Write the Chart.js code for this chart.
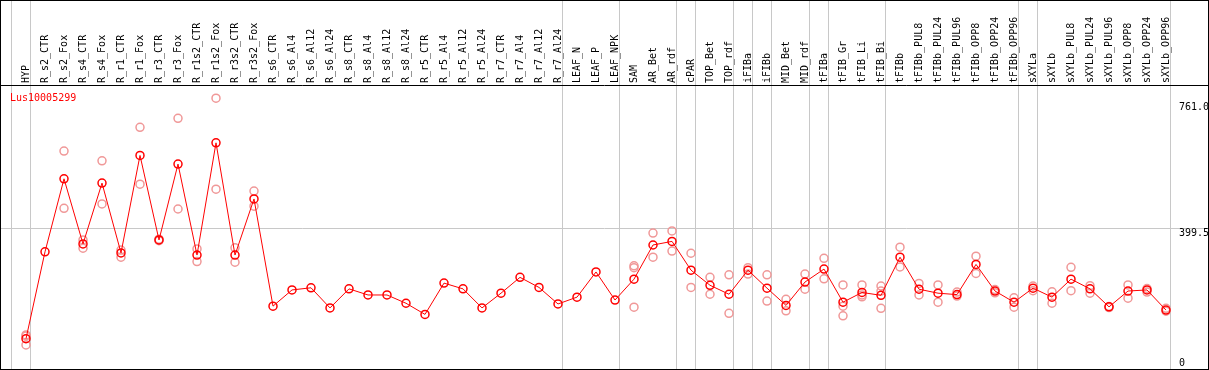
<!DOCTYPE html>
<html>
<head>
<meta charset="utf-8">
<script src="https://cdn.jsdelivr.net/npm/chart.js@4.4.0/dist/chart.umd.min.js"></script>
<style>
  html, body { margin: 0; padding: 0; background: #fff; }
  #wrap { width: 1209px; height: 370px; position: relative; }
</style>
</head>
<body>
<div id="wrap"><canvas id="grafico"></canvas></div>
<script>
const geneName = 'Lus10005299';

const categories = [
    'HYP', 'R_s2_CTR', 'R_s2_Fox', 'R_s4_CTR', 'R_s4_Fox', 'R_r1_CTR', 'R_r1_Fox', 'R_r3_CTR', 'R_r3_Fox',
    'R_r1s2_CTR', 'R_r1s2_Fox', 'R_r3s2_CTR', 'R_r3s2_Fox', 'R_s6_CTR', 'R_s6_Al4', 'R_s6_Al12', 'R_s6_Al24',
    'R_s8_CTR', 'R_s8_Al4', 'R_s8_Al12', 'R_s8_Al24', 'R_r5_CTR', 'R_r5_Al4', 'R_r5_Al12', 'R_r5_Al24',
    'R_r7_CTR', 'R_r7_Al4', 'R_r7_Al12', 'R_r7_Al24', 'LEAF_N', 'LEAF_P', 'LEAF_NPK', 'SAM', 'AR_Bet', 'AR_rdf',
    'cPAR', 'TOP_Bet', 'TOP_rdf', 'iFIBa', 'iFIBb', 'MID_Bet', 'MID_rdf', 'tFIBa', 'tFIB_Gr', 'tFIB_Li', 'tFIB_Bi',
    'tFIBb', 'tFIBb_PUL8', 'tFIBb_PUL24', 'tFIBb_PUL96', 'tFIBb_OPP8', 'tFIBb_OPP24', 'tFIBb_OPP96',
    'sXYLa', 'sXYLb', 'sXYLb_PUL8', 'sXYLb_PUL24', 'sXYLb_PUL96', 'sXYLb_OPP8', 'sXYLb_OPP24', 'sXYLb_OPP96'
];

// mean expression per sample
const means = [
    92.5, 334, 537, 356, 525, 331, 602, 367, 578, 325, 637, 325, 481, 183, 228, 234, 178,
    231, 214, 214, 191, 160, 247, 231, 178, 219, 263, 235, 189, 208, 278, 200, 258, 353, 363,
    283, 241, 216, 283, 233, 185, 250, 286, 194, 221, 213, 319, 230, 219, 215, 299, 225, 194,
    233, 208, 258, 231, 181, 225, 228, 172
];

// replicates (null = hidden under the mean)
const rep1 = [
    100, null, 614, 367, 587, 339, 680, 365, 705, 342, 761, 345, 503, null, null, null, null,
    null, null, null, null, null, null, null, null, null, null, null, null, null, null, null, 295, 386, 392,
    330, 263, 270, 290, 270, 202, 272, 316, 242, 242, 239, 347, 246, 242, 222, 322, 229, 206,
    239, 223, 291, 240, 182, 242, 232, 177
];
const rep2 = [
    75, null, 455, 344, 467, 319, 522, 369, 453, 307, 508, 305, 461, null, null, null, null,
    null, null, null, null, null, null, null, null, null, null, null, null, null, null, null, 290, 319, 336,
    235, 216, 163, 272, 197, 170, 230, 259, 183, 209, 177, 292, 214, 194, 211, 274, 220, 180,
    226, 191, 226, 219, 179, 205, 222, 169
];
const rep3 = [
    103, null, null, null, null, null, null, null, null, null, null, null, null, null, null, null, null,
    null, null, null, null, null, null, null, null, null, null, null, null, null, null, null, 180, null, null,
    null, null, null, null, null, null, null, null, 156, 214, 225, null, null, null, null, null, null, null,
    null, null, null, null, null, null, null, null
];

// group separators: after these sample indexes
const groupEnds = [-1, 0, 28, 31, 34, 35, 37, 38, 39, 41, 42, 45, 52, 53, 60];

const axisTicks = [0, 399.5, 761];
const axisLabels = ['0', '399.5', '761.0'];

const monoFont = 'DejaVu Sans Mono';
const gray = '#c8c8c8';
const repColor = '#f09898';

const framePlugin = {
    id: 'frame',
    beforeDatasetsDraw(chart) {
        const ctx = chart.ctx;
        const x = chart.scales.x;
        const y = chart.scales.y;
        const step = x.getPixelForValue(1) - x.getPixelForValue(0);
        ctx.save();
        ctx.strokeStyle = gray;
        ctx.lineWidth = 1;
        groupEnds.forEach(i => {
            const px = Math.round(x.getPixelForValue(0) + i * step + 4) + 0.5;
            ctx.beginPath();
            ctx.moveTo(px, 0);
            ctx.lineTo(px, chart.height);
            ctx.stroke();
        });
        const py = Math.round(y.getPixelForValue(axisTicks[1])) + 0.5;
        ctx.beginPath();
        ctx.moveTo(0, py);
        ctx.lineTo(chart.width, py);
        ctx.stroke();
        ctx.restore();
    },
    afterDraw(chart) {
        const ctx = chart.ctx;
        const y = chart.scales.y;
        const area = chart.chartArea;
        ctx.save();
        ctx.strokeStyle = '#000';
        ctx.lineWidth = 1;
        ctx.strokeRect(0.5, 0.5, chart.width - 1, chart.height - 1);
        ctx.beginPath();
        ctx.moveTo(0, 85.5);
        ctx.lineTo(chart.width, 85.5);
        ctx.stroke();

        ctx.font = '10px "' + monoFont + '"';
        ctx.textBaseline = 'top';
        ctx.textAlign = 'left';
        ctx.fillStyle = '#ff0000';
        ctx.fillText(geneName, 10, 93);

        ctx.fillStyle = '#000';
        axisTicks.forEach((v, i) => {
            let py = y.getPixelForValue(v);
            py = Math.min(Math.max(py, area.top + 16), area.bottom - 10);
            ctx.fillText(axisLabels[i], 1179, py);
        });
        ctx.restore();
    }
};

const repStyle = {
    showLine: false,
    pointRadius: 4,
    pointHoverRadius: 4,
    pointBorderWidth: 1.5,
    pointBorderColor: repColor,
    pointBackgroundColor: 'rgba(0,0,0,0)',
    order: 1
};

new Chart(document.getElementById('grafico'), {
    type: 'line',
    data: {
        labels: categories,
        datasets: [{
            label: geneName,
            data: means,
            borderColor: '#ff0000',
            borderWidth: 1,
            tension: 0,
            pointRadius: 4,
            pointHoverRadius: 4,
            pointBorderWidth: 1.5,
            pointBorderColor: '#ff0000',
            pointBackgroundColor: 'rgba(0,0,0,0)',
            order: 0
        },
        Object.assign({ label: 'rep1', data: rep1 }, repStyle),
        Object.assign({ label: 'rep2', data: rep2 }, repStyle),
        Object.assign({ label: 'rep3', data: rep3 }, repStyle)]
    },
    options: {
        responsive: true,
        maintainAspectRatio: false,
        animation: false,
        layout: {
            autoPadding: false,
            padding: { left: 26, right: 43, top: 0, bottom: 2 }
        },
        plugins: {
            legend: { display: false },
            tooltip: { enabled: false }
        },
        scales: {
            x: {
                type: 'category',
                position: 'top',
                offset: false,
                grid: { display: false, drawTicks: false },
                border: { display: false },
                afterFit(scale) { scale.height = 86; },
                ticks: {
                    autoSkip: false,
                    minRotation: 90,
                    maxRotation: 90,
                    padding: 3,
                    labelOffset: 12,
                    color: '#000',
                    font: { family: monoFont, size: 10 }
                }
            },
            y: {
                display: false,
                min: 11,
                max: 795
            }
        }
    },
    plugins: [framePlugin]
});
</script>
</body>
</html>
